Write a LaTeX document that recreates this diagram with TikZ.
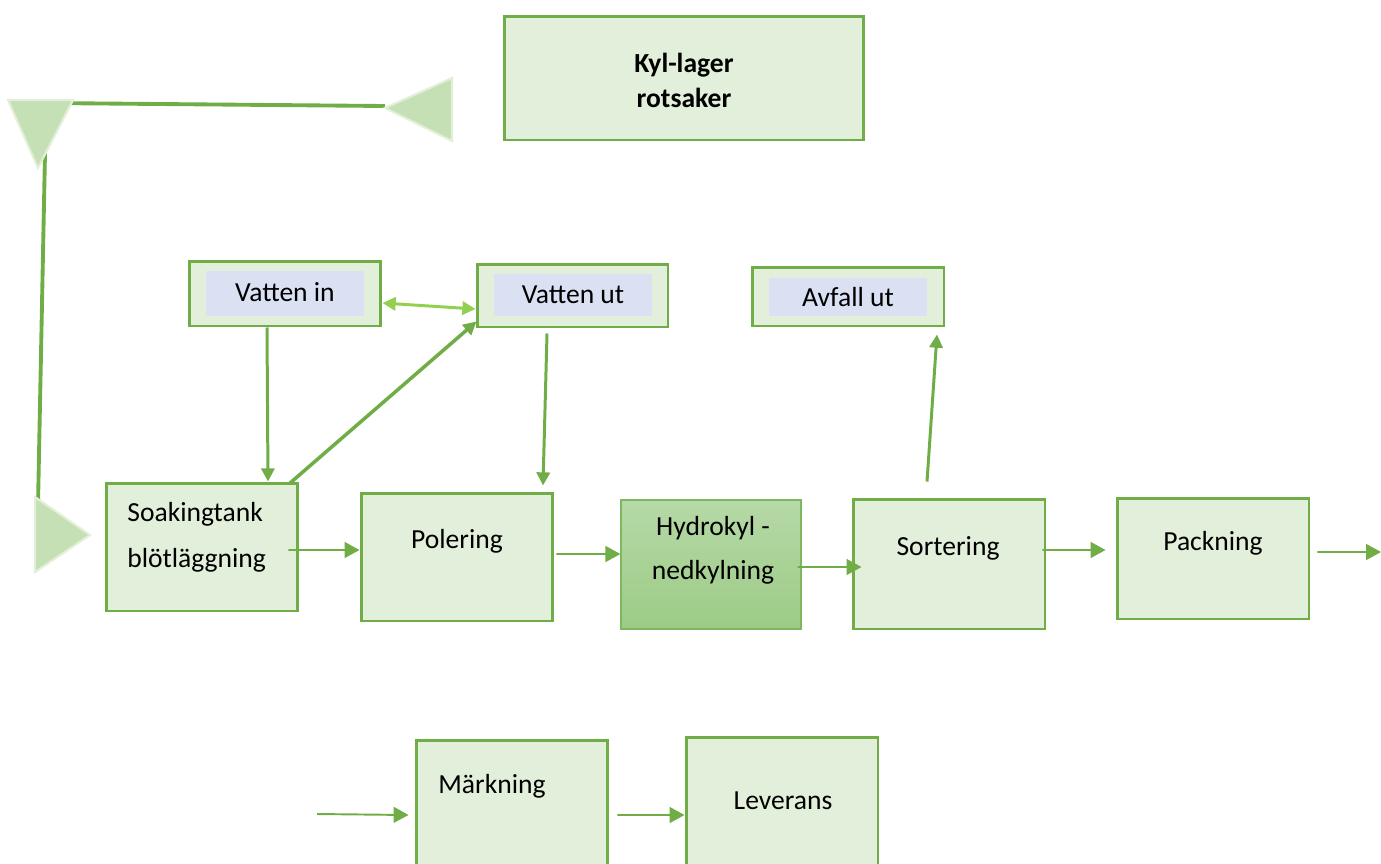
\documentclass[tikz,border=0pt]{standalone}
\usepackage{fontspec}
\setmainfont{Carlito}
\usepackage{xcolor}
\usetikzlibrary{arrows.meta}
\definecolor{boxfill}{HTML}{E2EFDA}
\definecolor{boxline}{HTML}{70AD47}
\definecolor{innerfill}{HTML}{D9E1F2}
\definecolor{lightline}{HTML}{92D050}
\definecolor{trifill}{HTML}{C5E0B4}
\definecolor{triline}{HTML}{E2F0D9}
\definecolor{hydtop}{HTML}{B6D9A7}
\definecolor{hydbot}{HTML}{9CCB86}
\definecolor{hydline}{HTML}{7DB75F}
\tikzset{
  stepbox/.style={draw=boxline, fill=boxfill, line width=1.7pt, inner sep=0pt},
  innerbox/.style={fill=innerfill, inner sep=0pt},
  txt/.style={font=\fontsize{15.7}{25}\selectfont, inner sep=0pt},
  flow/.style={draw=boxline, line width=1.1pt, -{Triangle[length=8.5pt,width=9pt]}},
  thickflow/.style={draw=boxline, line width=1.7pt, -{Triangle[length=7.5pt,width=7.5pt]}},
  tri/.style={fill=trifill, draw=triline, line width=1.2pt}
}
\begin{document}
\begin{tikzpicture}[x=0.02cm, y=-0.02cm]
  \clip (0,0) rectangle (1381,863);

  % Kyl-lager
  \node[stepbox, minimum width=7.2cm, minimum height=2.48cm] (kyl) at (684,78) {};
  \node[txt, font=\fontsize{15.7}{20}\selectfont\bfseries, align=center] (kyltxt) at (684,80) {Kyl-lager\\rotsaker};

  % Vatten in / ut, avfall
  \node[stepbox, minimum width=3.84cm, minimum height=1.3cm] (vin) at (285,293.5) {};
  \node[innerbox, minimum width=3.16cm, minimum height=0.9cm] (vinin) at (285,293.5) {};
  \node[txt] (vintxt) at (285,292) {Vatten in};

  \node[stepbox, minimum width=3.82cm, minimum height=1.26cm] (vut) at (572.5,295.5) {};
  \node[innerbox, minimum width=3.16cm, minimum height=0.84cm] (vutin) at (573,295) {};
  \node[txt] (vuttxt) at (573,295) {Vatten ut};

  \node[stepbox, minimum width=3.84cm, minimum height=1.18cm] (avf) at (848,296.5) {};
  \node[innerbox, minimum width=3.16cm, minimum height=0.76cm] (avfin) at (848,297) {};
  \node[txt] (avftxt) at (848,297) {Avfall ut};

  % Steg i linjen
  \node[stepbox, minimum width=3.84cm, minimum height=2.56cm] (soak) at (202,547) {};
  \node[txt, font=\fontsize{15.7}{26}\selectfont, align=left, anchor=west] (soaktxt) at (127,537) {Soakingtank\\blötläggning};

  \node[stepbox, minimum width=3.84cm, minimum height=2.56cm] (pol) at (457,557) {};
  \node[txt] (poltxt) at (457,541) {Polering};

  \node[draw=hydline, line width=0.7pt, top color=hydtop, bottom color=hydbot,
        minimum width=3.6cm, minimum height=2.58cm, inner sep=0pt] (hyd) at (711,564.5) {};
  \node[txt, align=center] (hydtxt) at (713,550) {Hydrokyl -\\nedkylning};

  \node[stepbox, minimum width=3.84cm, minimum height=2.6cm] (sort) at (949,564) {};
  \node[txt] (sorttxt) at (948,548) {Sortering};

  \node[stepbox, minimum width=3.84cm, minimum height=2.42cm] (pack) at (1213,558.5) {};
  \node[txt] (packtxt) at (1213,543) {Packning};

  \node[stepbox, minimum width=3.84cm, minimum height=2.8cm] (mark) at (512,810) {};
  \node[txt, anchor=west] (marktxt) at (438,786) {Märkning};

  \node[stepbox, minimum width=3.84cm, minimum height=2.86cm] (lev) at (782,808.5) {};
  \node[txt] (levtxt) at (783,801) {Leverans};

  \coordinate (ut) at (1381,552);
  \coordinate (in) at (317,814);

  % Pilar i linjen
  \draw[flow] ([xshift=-0.22cm,yshift=-0.06cm]soak.east) -- ([yshift=0.14cm]pol.west);
  \draw[flow] ([xshift=0.04cm,yshift=0.06cm]pol.east) -- ([yshift=0.21cm]hyd.west);
  \draw[flow] ([xshift=-0.08cm,yshift=-0.05cm]hyd.east) -- ([xshift=0.2cm,yshift=-0.06cm]sort.west);
  \draw[flow] ([xshift=-0.08cm,yshift=0.28cm]sort.east) -- ([xshift=-0.2cm,yshift=0.17cm]pack.west);
  \draw[flow] ([xshift=0.14cm,yshift=0.13cm]pack.east) -- (ut);
  \draw[flow] (in) -- ([xshift=-0.12cm,yshift=-0.1cm]mark.west);
  \draw[flow] ([xshift=0.16cm,yshift=-0.1cm]mark.east) -- ([yshift=-0.13cm]lev.west);

  % Vatten och avfall
  \draw[thickflow] ([xshift=-0.36cm]vin.south) -- ([xshift=1.32cm]soak.north);
  \draw[thickflow] ([xshift=-0.51cm,yshift=-0.1cm]vut.south) -- ([xshift=1.72cm,yshift=0.12cm]pol.north);
  \draw[thickflow, line width=2pt] ([xshift=-0.2cm,yshift=-0.04cm]soak.north east) -- ([xshift=0.02cm,yshift=0.14cm]vut.south west);
  \draw[thickflow, draw=lightline, {Triangle[length=7.5pt,width=7.5pt]}-{Triangle[length=7.5pt,width=7.5pt]}]
    ([yshift=-0.19cm]vin.east) -- ([yshift=-0.27cm]vut.west);
  \draw[thickflow] ([xshift=-0.44cm,yshift=0.32cm]sort.north) -- ([xshift=1.78cm,yshift=-0.14cm]avf.south);

  % Retur fran kyl-lager
  \coordinate (rtop) at (385,106);
  \coordinate (rhorn) at (46,103);
  \coordinate (rbot) at (38,505);
  \draw[boxline, line width=2.2pt] (rtop) -- (rhorn) -- (rbot);
  \draw[tri] (452,78) -- (452,141) -- (385,108) -- cycle;
  \draw[tri] (8,100) -- (73,100) -- (38,168) -- cycle;
  \draw[tri] (35,497) -- (35,572) -- (90,535) -- cycle;
\end{tikzpicture}
\end{document}
